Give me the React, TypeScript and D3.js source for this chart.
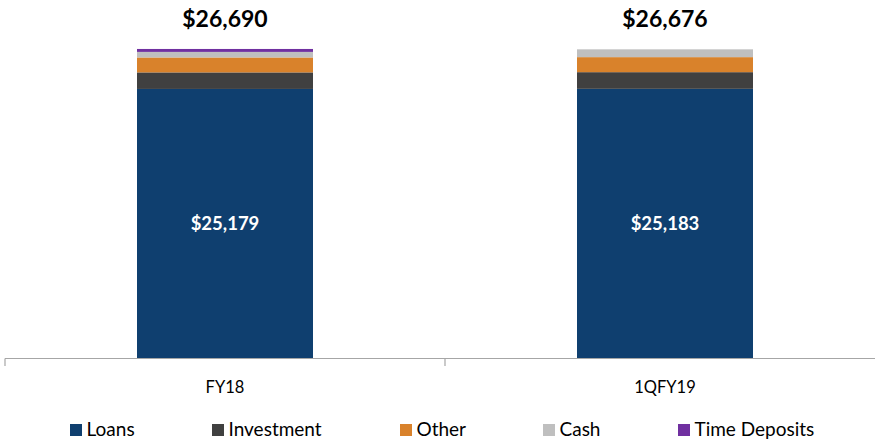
import React, { useRef, useEffect } from "react";
import { select, scaleBand, scaleLinear, stack, format } from "d3";

const categories = ["FY18", "1QFY19"];
const seriesNames = ["Loans", "Investment", "Other", "Cash", "Time Deposits"];
const loans = [25179, 25183];
const investment = [625, 630];
const other = [565, 568];
const cash = [210, 295];
const timeDeposits = [111, 0];
const totals = [26690, 26676];
const colors = ["#0F3F6F", "#404040", "#D9822B", "#BFBFBF", "#7030A0"];
const legendX = [70, 212, 400, 543, 678];

function App() {
  const svgRef = useRef<SVGSVGElement>(null);

  useEffect(() => {
    const width = 875;
    const height = 441;
    const svg = select(svgRef.current);
    svg.selectAll("*").remove();

    const rows = categories.map((c, i) => ({
      cat: c,
      Loans: loans[i],
      Investment: investment[i],
      Other: other[i],
      Cash: cash[i],
      "Time Deposits": timeDeposits[i],
    }));

    const x = scaleBand().domain(categories).range([5, 885]).padding(0);
    const barW = x.bandwidth() * 0.4;
    // value axis is hidden and starts at 15,000
    const y = scaleLinear().domain([15000, 28000]).range([358.3, 14.3]);

    const layers = stack<any>().keys(seriesNames)(rows);
    const fmt = (v: number) => "$" + format(",")(v);

    svg
      .selectAll("g.layer")
      .data(layers)
      .join("g")
      .attr("class", "layer")
      .attr("fill", (d, i) => colors[i])
      .selectAll("rect")
      .data((d) => d)
      .join("rect")
      .attr("x", (d: any) => x(d.data.cat)! + (x.bandwidth() - barW) / 2)
      .attr("width", barW)
      .attr("y", (d) => y(Math.max(d[1], 15000)))
      .attr("height", (d) => Math.max(0, y(Math.max(d[0], 15000)) - y(Math.max(d[1], 15000))));

    // axis line and ticks
    const axisColor = "#A6A6A6";
    svg.append("line")
      .attr("x1", 5).attr("x2", width).attr("y1", 358.5).attr("y2", 358.5)
      .attr("stroke", axisColor).attr("stroke-width", 1.2);
    [5, 445].forEach((t) => {
      svg.append("line")
        .attr("x1", t).attr("x2", t).attr("y1", 358.5).attr("y2", 366)
        .attr("stroke", axisColor).attr("stroke-width", 1.2);
    });

    const font = "Lato, 'Open Sans', sans-serif";

    // category labels
    svg.selectAll("text.cat")
      .data(categories)
      .join("text")
      .attr("class", "cat")
      .attr("x", (d) => x(d)! + x.bandwidth() / 2)
      .attr("y", 393)
      .attr("text-anchor", "middle")
      .attr("font-family", font)
      .attr("font-size", 16.5)
      .attr("fill", "#000")
      .text((d) => d);

    // total labels
    svg.selectAll("text.total")
      .data(totals)
      .join("text")
      .attr("class", "total")
      .attr("x", (d, i) => x(categories[i])! + x.bandwidth() / 2)
      .attr("y", 27)
      .attr("text-anchor", "middle")
      .attr("font-family", font)
      .attr("font-weight", "bold")
      .attr("font-size", 23)
      .attr("fill", "#000")
      .text((d) => fmt(d));

    // loans labels
    svg.selectAll("text.loan")
      .data(loans)
      .join("text")
      .attr("class", "loan")
      .attr("x", (d, i) => x(categories[i])! + x.bandwidth() / 2)
      .attr("y", (d) => (y(15000) + y(d)) / 2 + 6.5)
      .attr("text-anchor", "middle")
      .attr("font-family", font)
      .attr("font-weight", "bold")
      .attr("font-size", 18.5)
      .attr("fill", "#fff")
      .text((d) => fmt(d));

    // legend
    const lg = svg.selectAll("g.legend")
      .data(seriesNames)
      .join("g")
      .attr("class", "legend")
      .attr("transform", (d, i) => `translate(${legendX[i]},0)`);
    lg.append("rect")
      .attr("x", 0).attr("y", 424).attr("width", 12).attr("height", 12)
      .attr("fill", (d, i) => colors[i]);
    lg.append("text")
      .attr("x", 16.5).attr("y", 436)
      .attr("font-family", font)
      .attr("font-size", 19)
      .attr("fill", "#000")
      .text((d) => d);

    svg.attr("width", width).attr("height", height);
  }, []);

  return (
    <svg
      ref={svgRef}
      width={875}
      height={441}
      style={{ position: "absolute", left: 0, top: 0, background: "#fff" }}
    />
  );
}

export default App;
